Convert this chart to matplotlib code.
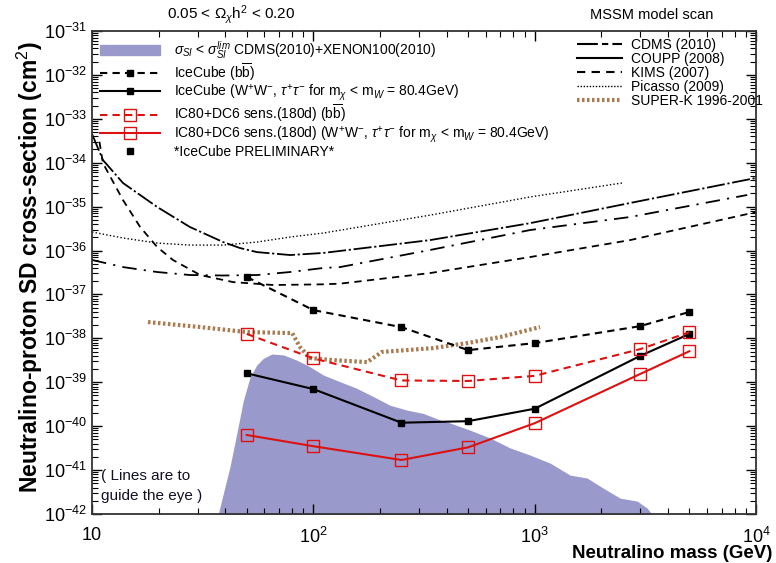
import numpy as np
import matplotlib
matplotlib.use("Agg")
import matplotlib.pyplot as plt
from matplotlib.patches import Patch
from matplotlib.lines import Line2D

plt.rcParams['font.family'] = ['Liberation Sans', 'DejaVu Sans']
plt.rcParams['mathtext.fontset'] = 'custom'
plt.rcParams['mathtext.rm'] = 'Liberation Sans'
plt.rcParams['mathtext.it'] = 'Liberation Sans:italic'
plt.rcParams['axes.unicode_minus'] = False

# IceCube / IC80+DC6 points
mass_pts = [50, 100, 250, 500, 1000, 3000, 5000]
icecube_bb = [2.5e-37, 4.4e-38, 1.8e-38, 5.4e-39, 7.8e-39, 1.9e-38, 4.0e-38]
icecube_ww = [1.6e-39, 7.0e-40, 1.2e-40, 1.3e-40, 2.5e-40, 4.0e-39, 1.26e-38]
ic80_bb = [1.26e-38, 3.5e-39, 1.1e-39, 1.07e-39, 1.4e-39, 5.7e-39, 1.38e-38]
ic80_ww = [6.3e-41, 3.5e-41, 1.7e-41, 3.3e-41, 1.17e-40, 1.55e-39, 5.1e-39]

# MSSM region allowed by SI limits (upper edge)
mssm_x = [37.2, 39.2, 42.0, 45.1, 48.3, 51.8, 55.5, 59.4, 64.9, 73.2, 84.1, 96.6,
          111, 132, 157, 187, 222, 264, 314, 374, 415, 511, 628, 774, 953, 1175,
          1445, 1725, 2037, 2432, 2904, 3222, 3500]
mssm_y = [1e-42, 2.95e-42, 1.19e-41, 6.9e-41, 3.9e-40, 1.33e-39, 2.47e-39, 3.5e-39,
          4.4e-39, 4.2e-39, 3.2e-39, 2.25e-39, 1.46e-39, 1.03e-39, 7.3e-40, 4.7e-40,
          3.0e-40, 2.33e-40, 1.95e-40, 1.38e-40, 1.18e-40, 8.1e-41, 5.4e-41, 3.2e-41,
          2.2e-41, 1.44e-41, 7.7e-42, 6.6e-42, 3.9e-42, 2.3e-42, 1.97e-42, 1.36e-42, 8e-43]

# direct detection limits
cdms_x = [10, 11.2, 13.8, 19.7, 27.7, 39.1, 46.6, 55.7, 78.5, 110.6, 337, 953, 2698, 10000]
cdms_y = [4.5e-34, 1.15e-34, 3.45e-35, 9.8e-36, 3.43e-36, 1.56e-36, 1.14e-36, 9.2e-37,
          7.9e-37, 8.8e-37, 1.73e-36, 4.2e-36, 1.21e-35, 4.5e-35]
coupp_x = [10, 13.8, 19.7, 27.7, 39.1, 55.7, 78.5, 110.6, 132, 337, 953, 2698, 9120]
coupp_y = [6.1e-37, 4.2e-37, 3.24e-37, 2.77e-37, 2.7e-37, 2.77e-37, 3.24e-37, 4.0e-37,
           4.2e-37, 1.03e-36, 2.93e-36, 5.8e-36, 1.84e-35]
kims_x = [10.8, 11.2, 13.8, 16.5, 19.7, 23.2, 30.8, 43.4, 65.8, 110.6, 132, 337, 953, 2698, 10000]
kims_y = [3.0e-34, 9.8e-35, 1.41e-35, 3.43e-36, 1.2e-36, 6.1e-37, 2.77e-37, 1.91e-37,
          1.64e-37, 1.7e-37, 1.76e-37, 3.07e-37, 7.1e-37, 1.73e-36, 7.5e-36]
picasso_x = [10, 13.8, 19.7, 27.7, 39.1, 55.7, 78.5, 110.6, 337, 953, 2483]
picasso_y = [2.64e-36, 1.93e-36, 1.48e-36, 1.33e-36, 1.33e-36, 1.56e-36, 2.03e-36,
             2.5e-36, 6.4e-36, 1.66e-35, 3.45e-35]
superk_x = [17.9, 30.8, 50.1, 80.2, 87.1, 96.6, 122.7, 175, 204, 347, 495, 698, 1057]
superk_y = [2.35e-38, 1.81e-38, 1.39e-38, 1.32e-38, 6.3e-39, 3.56e-39, 3.2e-39, 2.88e-39,
            4.9e-39, 6.0e-39, 7.8e-39, 1.07e-38, 1.81e-38]

fig = plt.figure(figsize=(7.76, 5.63), dpi=100)
ax = fig.add_axes([0.1186, 0.087, 0.8557, 0.858])

ax.fill_between(mssm_x, mssm_y, 1e-45, color='#9999cc', lw=0)

ax.plot(cdms_x, cdms_y, color='black', lw=1.3, dashes=(10, 1.5, 1.2, 1.5))
ax.plot(coupp_x, coupp_y, color='black', lw=1.3, dashes=(8, 4, 1.2, 4))
ax.plot(kims_x, kims_y, color='black', lw=1.3, dashes=(4, 3))
ax.plot(picasso_x, picasso_y, color='black', lw=1.0, dashes=(1, 1.6))
ax.plot(superk_x, superk_y, color='#a87c50', lw=3, dashes=(0.6, 0.6))

ax.plot(mass_pts, icecube_bb, color='black', lw=1.5, dashes=(3.5, 2.5),
        marker='s', ms=5)
ax.plot(mass_pts, icecube_ww, color='black', lw=1.5, marker='s', ms=5)
ax.plot(mass_pts, ic80_bb, color='#dd1111', lw=1.5, dashes=(3.5, 2.5),
        marker='s', ms=8, mfc='none', mew=1.0)
ax.plot(mass_pts, ic80_ww, color='#dd1111', lw=1.5,
        marker='s', ms=8, mfc='none', mew=1.0)

ax.set_xscale('log')
ax.set_yscale('log')
ax.set_xlim(10, 1e4)
ax.set_ylim(1e-42, 1e-31)

ax.set_xticks([10, 100, 1000, 10000])
ax.set_xticklabels(['10', '$10^{2}$', '$10^{3}$', '$10^{4}$'])
yt = [10.0 ** e for e in range(-42, -30)]
ax.set_yticks(yt)
ax.set_yticklabels(['$10^{%d}$' % e for e in range(-42, -30)])
ax.tick_params(which='both', direction='in', top=True, right=True, labelsize=13)
ax.tick_params(which='major', length=7, width=1)
ax.tick_params(which='minor', length=4, width=0.8)
ax.tick_params(axis='x', pad=9)
ax.yaxis.set_minor_locator(matplotlib.ticker.LogLocator(base=10, subs=np.arange(2, 10), numticks=100))
ax.yaxis.set_minor_formatter(matplotlib.ticker.NullFormatter())
for s in ax.spines.values():
    s.set_linewidth(1.3)
    s.set_color('#333333')

h1 = [Patch(color='#9999cc'),
      Line2D([], [], color='black', lw=1.5, dashes=(3.5, 2.5), marker='s', ms=5),
      Line2D([], [], color='black', lw=1.5, marker='s', ms=5),
      Line2D([], [], color='#dd1111', lw=1.5, dashes=(3.5, 2.5), marker='s', ms=8, mfc='none'),
      Line2D([], [], color='#dd1111', lw=1.5, marker='s', ms=8, mfc='none'),
      Line2D([], [], color='black', ls='none', marker='s', ms=5)]
l1 = [r'$\sigma_{SI}$ < $\sigma_{SI}^{lim}$ CDMS(2010)+XENON100(2010)',
      r'IceCube (b$\overline{\rm b}$)',
      r'IceCube (W$^{+}$W$^{-}$, $\tau^{+}\tau^{-}$ for m$_{\chi}$ < m$_{W}$ = 80.4GeV)',
      r'IC80+DC6 sens.(180d) (b$\overline{\rm b}$)',
      r'IC80+DC6 sens.(180d) (W$^{+}$W$^{-}$, $\tau^{+}\tau^{-}$ for m$_{\chi}$ < m$_{W}$ = 80.4GeV)',
      '*IceCube PRELIMINARY*']
leg1 = ax.legend(h1, l1, loc='upper left', bbox_to_anchor=(0.0, 1.0), frameon=False,
                 fontsize=10, handlelength=4.3, handletextpad=1.0, labelspacing=0.0,
                 borderaxespad=0.2)
ax.add_artist(leg1)

h2 = [Line2D([], [], color='black', lw=1.5, dashes=(10, 2, 3, 2)),
      Line2D([], [], color='black', lw=1.5),
      Line2D([], [], color='black', lw=1.5, dashes=(4, 3)),
      Line2D([], [], color='black', lw=1.0, dashes=(1, 1.2)),
      Line2D([], [], color='#a87c50', lw=3, dashes=(0.6, 0.6))]
l2 = ['CDMS (2010)', 'COUPP (2008)', 'KIMS (2007)', 'Picasso (2009)', 'SUPER-K 1996-2001']
ax.legend(h2, l2, loc='upper left', bbox_to_anchor=(0.715, 1.005), frameon=False,
          fontsize=10, handlelength=3.3, handletextpad=0.6, labelspacing=0.0,
          borderaxespad=0.3)

ax.text(0.013, 0.058, '( Lines are to\nguide the eye )', transform=ax.transAxes,
        fontsize=11, color='#111122', ha='left', va='center', linespacing=1.55)

fig.text(0.215, 0.974, r'0.05 < $\Omega_{\chi}$h$^{2}$ < 0.20', fontsize=11, ha='left', va='center')
fig.text(0.76, 0.974, 'MSSM model scan', fontsize=10.5, ha='left', va='center')
fig.text(0.038, 0.525, 'Neutralino-proton SD cross-section (cm$^{2}$)', rotation=90,
         fontsize=16.5, fontweight='bold', ha='center', va='center')
fig.text(0.995, 0.016, 'Neutralino mass (GeV)', fontsize=13.5, fontweight='bold',
         ha='right', va='center')

fig.savefig('out.png', dpi=100)
